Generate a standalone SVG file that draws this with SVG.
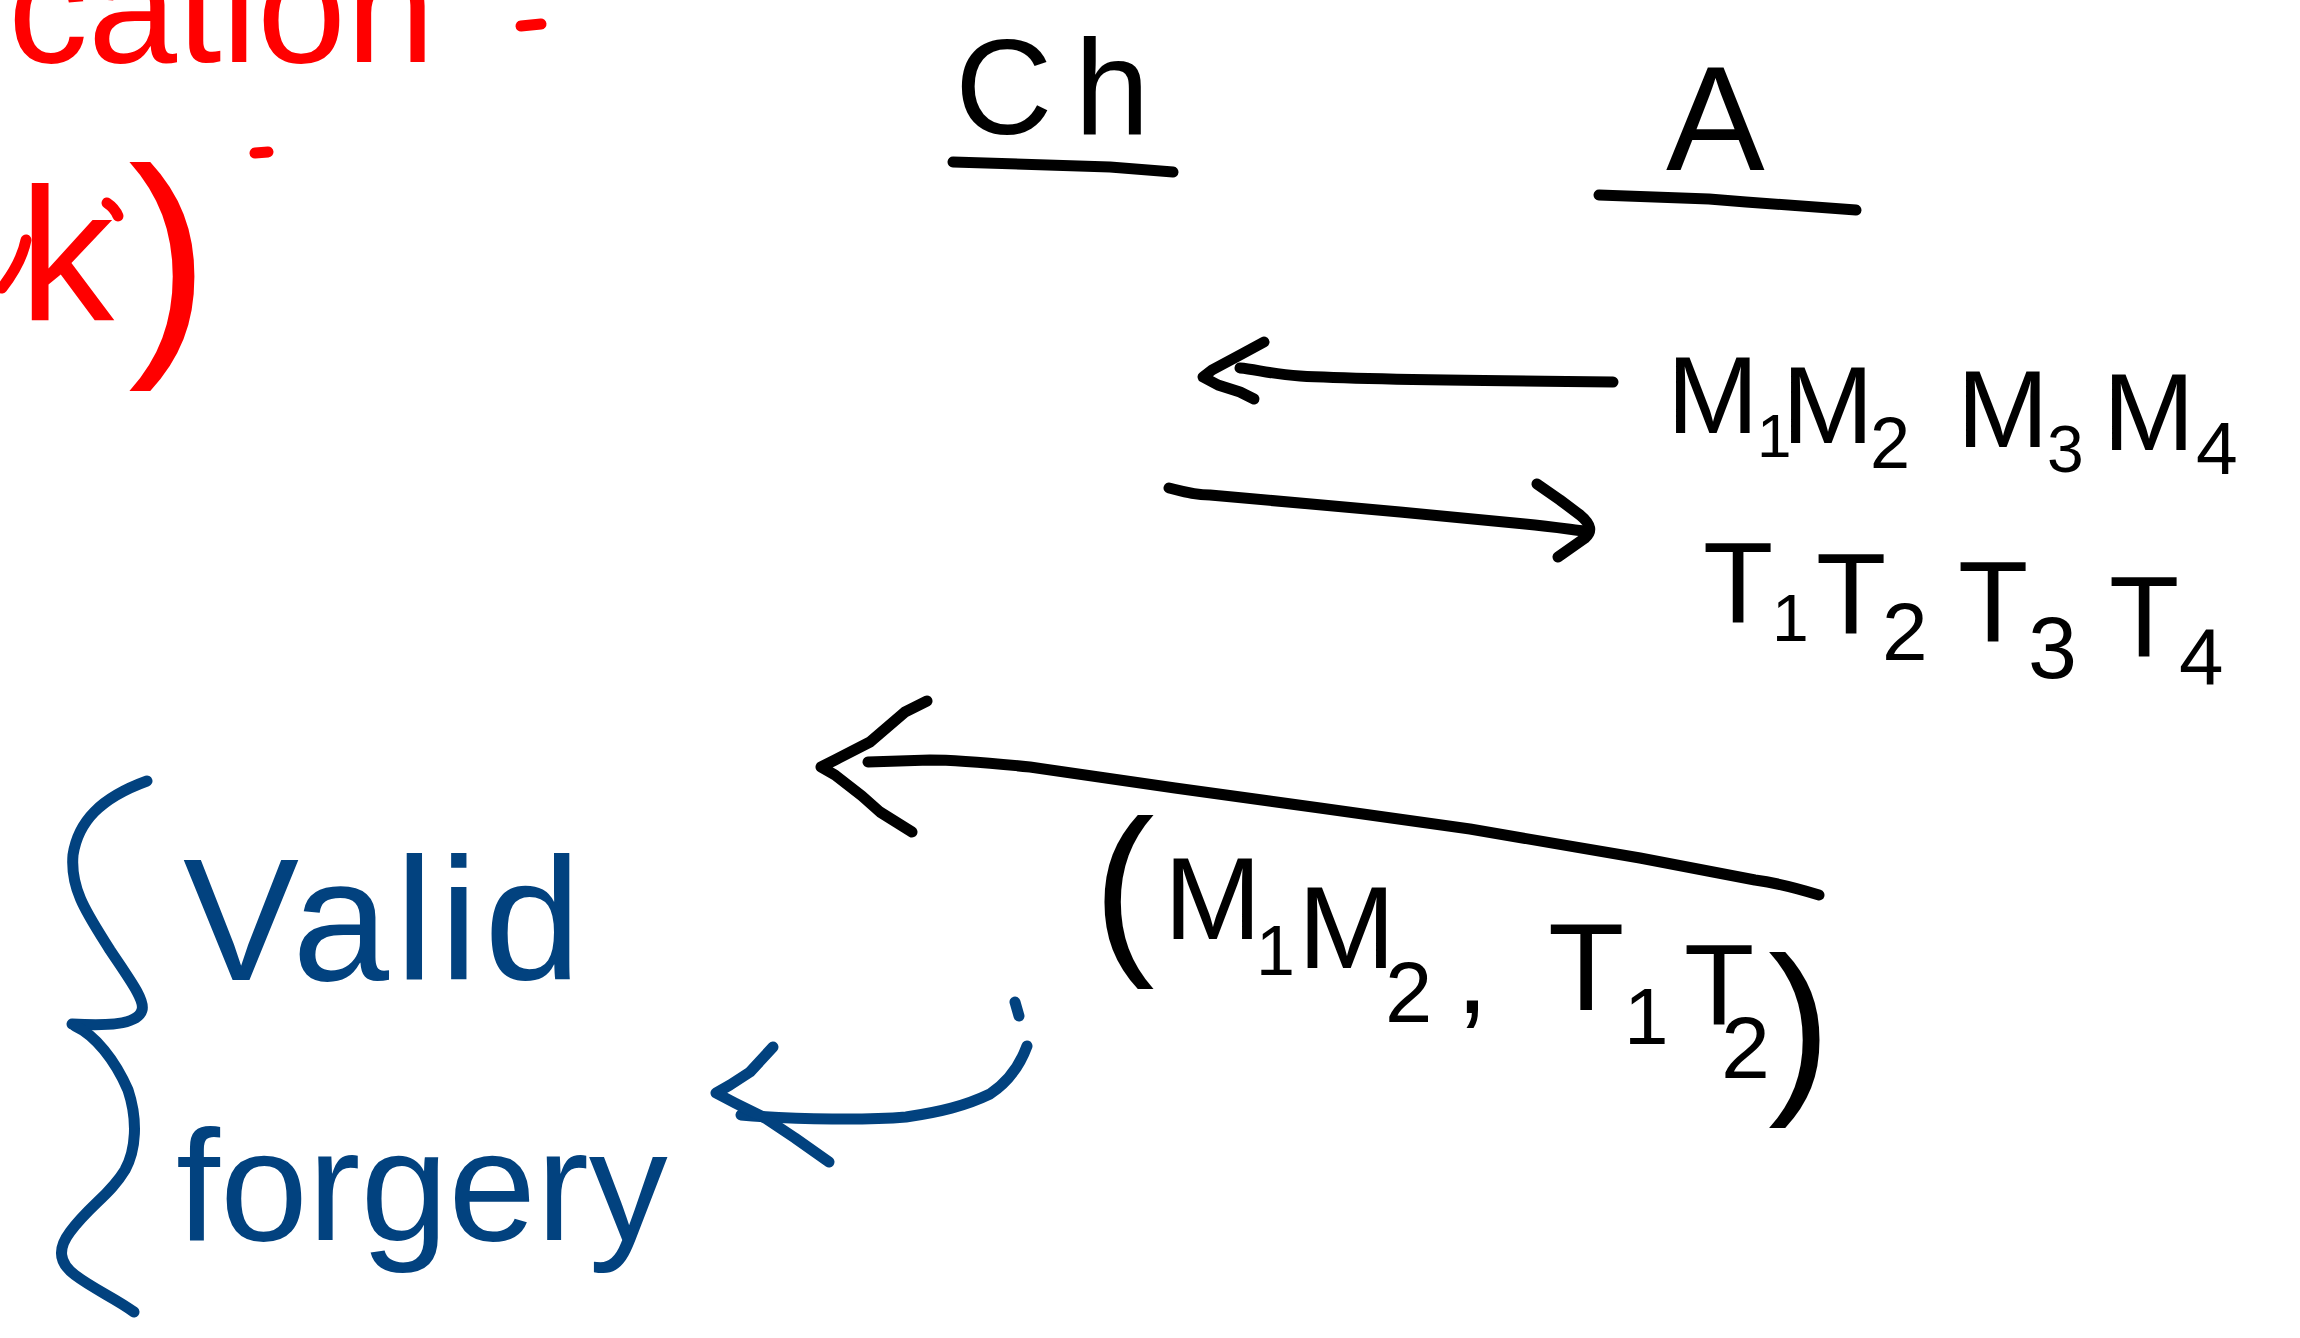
<svg xmlns="http://www.w3.org/2000/svg" width="2300" height="1338" viewBox="0 0 2300 1338">
<style>
text{font-family:"Liberation Sans",Arial,sans-serif;}
.k{fill:#000;}
.r{fill:#ff0000;}
.b{fill:#02427f;}
.ln{fill:none;stroke:#000;stroke-width:11;stroke-linecap:round;stroke-linejoin:round;}
.lr{fill:none;stroke:#ff0000;stroke-width:11;stroke-linecap:round;stroke-linejoin:round;}
.lb{fill:none;stroke:#02427f;stroke-width:11;stroke-linecap:round;stroke-linejoin:round;}
</style>
<rect width="2300" height="1338" fill="#fff"/>

<g id="red-notes">
  <text id="red-cation" class="r" x="8" y="62" font-size="160">cation</text>
  <text id="red-k" class="r"><tspan x="19" y="320" font-size="190">k</tspan><tspan x="128" y="340" font-size="245">)</tspan></text>
  <path class="lr" d="M2,288 C12,275 22,260 26,240" />
  <path class="lr" d="M521,26 L541,24" stroke-width="5"/>
  <path class="lr" d="M255,153 L268,152" stroke-width="3"/>
  <path class="lr" d="M107,203 C113,207 116,211 118,216" stroke-width="6"/>
</g>

<g id="node-ch">
  <text class="k" x="955" y="134" font-size="135" letter-spacing="22">Ch</text>
  <path class="ln" d="M953,162 L1110,167 L1173,172"/>
</g>

<g id="node-a">
  <text class="k" x="1666" y="170" font-size="148">A</text>
  <path class="ln" d="M1599,195 L1709,199 L1746,202 L1856,210"/>
</g>

<g id="node-m">
  <text class="k"><tspan x="1667" y="433" font-size="110">M</tspan><tspan x="1757" y="457" font-size="62">1</tspan><tspan x="1782" y="443" font-size="110">M</tspan><tspan x="1870" y="468" font-size="72">2</tspan><tspan x="1957" y="447" font-size="110">M</tspan><tspan x="2047" y="472" font-size="66">3</tspan><tspan x="2103" y="450" font-size="110">M</tspan><tspan x="2196" y="474" font-size="75">4</tspan></text>
</g>

<g id="node-t">
  <text class="k"><tspan x="1703" y="623" font-size="115">T</tspan><tspan x="1772" y="641" font-size="66">1</tspan><tspan x="1816" y="634" font-size="115">T</tspan><tspan x="1882" y="660" font-size="82">2</tspan><tspan x="1958" y="642" font-size="115">T</tspan><tspan x="2028" y="678" font-size="88">3</tspan><tspan x="2109" y="657" font-size="115">T</tspan><tspan x="2179" y="684" font-size="80">4</tspan></text>
</g>

<g id="node-pair">
  <text class="k"><tspan x="1093" y="950" font-size="185">(</tspan><tspan x="1164" y="939" font-size="117">M</tspan><tspan x="1256" y="975" font-size="70">1</tspan><tspan x="1298" y="968" font-size="117">M</tspan><tspan x="1385" y="1022" font-size="85">2</tspan><tspan x="1456" y="1013" font-size="117">,</tspan><tspan x="1548" y="1010" font-size="125">T</tspan><tspan x="1624" y="1044" font-size="80">1</tspan><tspan x="1684" y="1025" font-size="115">T</tspan><tspan x="1721" y="1078" font-size="88">2</tspan><tspan x="1768" y="1089" font-size="190">)</tspan></text>
</g>

<g id="node-brace">
  <path class="lb" d="M147,781 C100,798 78,822 73,855 C70,890 88,915 110,950 C130,980 145,1000 142,1010 C138,1025 105,1026 72,1024"/>
  <path class="lb" d="M75,1026 C95,1035 115,1060 128,1090 C138,1120 136,1150 125,1170 C110,1195 90,1205 70,1232 C58,1248 58,1262 75,1275 C95,1290 115,1298 134,1312"/>
</g>

<g id="node-valid">
  <text class="b" x="183" y="980" font-size="174" letter-spacing="6">Valid</text>
</g>

<g id="node-forgery">
  <text class="b" x="176" y="1240" font-size="158">forgery</text>
</g>

<g id="connectors">
  <g id="arrow-m-to-ch">
    <path class="ln" d="M1613,382 C1500,381 1350,379 1300,376 C1270,374 1255,369 1240,368"/>
    <path class="ln" d="M1264,342 L1240,355 L1212,370 L1203,377 L1218,385 L1240,392 L1254,399"/>
  </g>
  <g id="arrow-ch-to-t">
    <path class="ln" d="M1169,488 C1185,492 1195,495 1210,495 L1400,512 L1525,524 C1555,527 1575,530 1585,531"/>
    <path class="ln" d="M1537,484 L1560,500 L1580,515 C1592,525 1592,532 1585,538 L1558,557"/>
  </g>
  <g id="arrow-pair">
    <path class="ln" d="M1819,895 C1790,886 1770,882 1755,880 L1640,858 L1470,829 L1320,808 L1175,788 L1030,767 C990,763 960,760 930,760 L868,762"/>
    <path class="ln" d="M927,701 L905,712 L870,742 L835,760 L821,767 L835,775 L862,796 L880,812 L912,832"/>
  </g>
  <g id="arrow-blue">
    <path class="lb" d="M1015,1002 L1019,1016"/>
    <path class="lb" d="M1027,1046 C1020,1065 1008,1082 990,1094 C965,1106 940,1112 906,1117 C870,1120 800,1120 741,1115"/>
    <path class="lb" d="M773,1047 L750,1072 L730,1085 L716,1093 L735,1103 L765,1118 L795,1138 L829,1162"/>
  </g>
</g>
</svg>
